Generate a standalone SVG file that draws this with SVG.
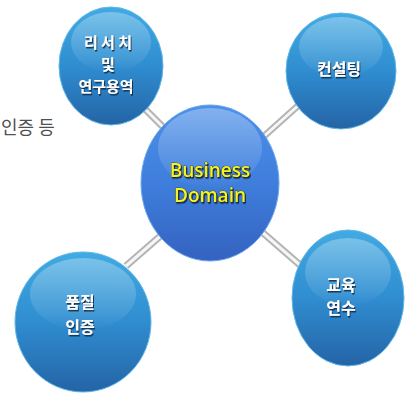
<svg xmlns="http://www.w3.org/2000/svg" width="407" height="395" viewBox="0 0 407 395">
<defs>
<linearGradient id="sat" x1="0" y1="0" x2="0" y2="1">
<stop offset="0" stop-color="#42aae2"/>
<stop offset="0.5" stop-color="#2f8dd0"/>
<stop offset="1" stop-color="#2464a6"/>
</linearGradient>
<linearGradient id="ctr" x1="0" y1="0" x2="0" y2="1">
<stop offset="0" stop-color="#4c90e8"/>
<stop offset="0.5" stop-color="#3f7edc"/>
<stop offset="1" stop-color="#3462c0"/>
</linearGradient>
<linearGradient id="gloss" x1="0" y1="0" x2="0" y2="1">
<stop offset="0" stop-color="#ffffff" stop-opacity="0.3"/>
<stop offset="0.8" stop-color="#ffffff" stop-opacity="0.08"/>
<stop offset="1" stop-color="#ffffff" stop-opacity="0"/>
</linearGradient>
<filter id="sh" x="-10%" y="-10%" width="120%" height="130%">
<feDropShadow dx="1" dy="1.5" stdDeviation="0.6" flood-color="#0a2040" flood-opacity="0.9"/>
</filter>
</defs>
<style>
.sat{fill:url(#sat);stroke:#5fb8e8;stroke-width:1}
.ctr{fill:url(#ctr);stroke:#6aa8ee;stroke-width:1}
.gl{fill:url(#gloss)}
.lbl{font-family:"Noto Sans CJK KR","Noto Sans",sans-serif;font-weight:bold;font-size:16px;fill:#ffffff;text-anchor:middle;filter:url(#sh)}
.sm{font-size:15px}
.biz{font-family:"Open Sans","DejaVu Sans",sans-serif;font-weight:600;font-size:19px;fill:#f4f422;stroke:#2a2a00;stroke-width:0.7;paint-order:stroke;text-anchor:middle;filter:url(#sh)}
.rod{stroke:#b4b4b4;stroke-width:7;stroke-linecap:butt}
.rodh{stroke:#f6f6f6;stroke-width:3}
</style>
<text x="1" y="134" font-family="'Noto Sans CJK KR',sans-serif" font-size="18" fill="#505050">인증 등</text>
<g id="connectors">
<line class="rod" x1="140" y1="104" x2="170" y2="134"/>
<line class="rodh" x1="140" y1="104" x2="170" y2="134"/>
<line class="rod" x1="310" y1="95" x2="262" y2="138"/>
<line class="rodh" x1="310" y1="95" x2="262" y2="138"/>
<line class="rod" x1="126" y1="266" x2="165" y2="232"/>
<line class="rodh" x1="126" y1="266" x2="165" y2="232"/>
<line class="rod" x1="262" y1="232" x2="300" y2="265"/>
<line class="rodh" x1="262" y1="232" x2="300" y2="265"/>
</g>
<g id="research">
<ellipse class="sat" cx="111" cy="66" rx="52" ry="59"/>
<ellipse class="gl" cx="111" cy="42" rx="40" ry="30"/>
<text class="lbl sm" x="108" y="48">리 서 치</text>
<text class="lbl sm" x="108" y="70">및</text>
<text class="lbl sm" x="106" y="92">연구용역</text>
</g>
<g id="consulting">
<ellipse class="sat" cx="341" cy="71" rx="55" ry="58"/>
<ellipse class="gl" cx="341" cy="47" rx="42" ry="30"/>
<text class="lbl" x="339" y="75" font-size="17">컨설팅</text>
</g>
<g id="center">
<ellipse class="ctr" cx="210" cy="183" rx="69" ry="78"/>
<ellipse class="gl" cx="210" cy="148" rx="52" ry="40"/>
<text class="biz" x="210" y="177">Business</text>
<text class="biz" x="210" y="202">Domain</text>
</g>
<g id="quality">
<ellipse class="sat" cx="83" cy="322" rx="68" ry="70"/>
<ellipse class="gl" cx="83" cy="294" rx="53" ry="36"/>
<text class="lbl" x="80" y="308">품질</text>
<text class="lbl" x="80" y="333">인증</text>
</g>
<g id="education">
<ellipse class="sat" cx="348" cy="298" rx="56" ry="68"/>
<ellipse class="gl" cx="348" cy="272" rx="43" ry="34"/>
<text class="lbl" x="341" y="291">교육</text>
<text class="lbl" x="341" y="314">연수</text>
</g>
</svg>
